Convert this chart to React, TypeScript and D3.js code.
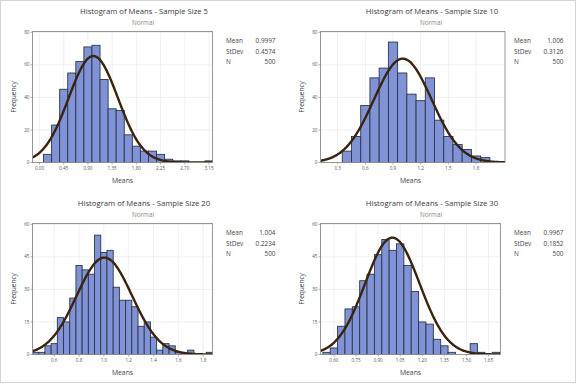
import React from "react";
import * as d3 from "d3";

// ---------- data ----------
const titles = [
  "Histogram of Means - Sample Size 5",
  "Histogram of Means - Sample Size 10",
  "Histogram of Means - Sample Size 20",
  "Histogram of Means - Sample Size 30",
];
const means = [0.9997, 1.006, 1.004, 0.9967];
const stdevs = [0.4574, 0.3126, 0.2234, 0.1852];
const meanLabels = ["0.9997", "1.006", "1.004", "0.9967"];
const stdevLabels = ["0.4574", "0.3126", "0.2234", "0.1852"];
const nValues = [500, 500, 500, 500];
const binWidths = [0.15, 0.1, 0.05, 0.05];

const mids5 = [0.15, 0.3, 0.45, 0.6, 0.75, 0.9, 1.05, 1.2, 1.35, 1.5, 1.65, 1.8, 1.95, 2.1, 2.25, 2.4, 2.55, 2.7, 2.85, 3.0, 3.15];
const counts5 = [5, 23, 45, 55, 62, 71, 72, 51, 33, 32, 17, 10, 7, 7, 5, 2, 1, 1, 0, 0, 1];

const mids10 = [0.4, 0.5, 0.6, 0.7, 0.8, 0.9, 1.0, 1.1, 1.2, 1.3, 1.4, 1.5, 1.6, 1.7, 1.8, 1.9];
const counts10 = [7, 16, 35, 52, 58, 74, 55, 42, 38, 52, 26, 16, 11, 8, 4, 3];

const mids20 = [0.45, 0.5, 0.55, 0.6, 0.65, 0.7, 0.75, 0.8, 0.85, 0.9, 0.95, 1.0, 1.05, 1.1, 1.15, 1.2, 1.25, 1.3, 1.35, 1.4, 1.45, 1.5, 1.55, 1.6, 1.65, 1.7, 1.75, 1.8, 1.85];
const counts20 = [1, 1, 4, 5, 17, 15, 26, 41, 39, 37, 55, 47, 48, 31, 25, 25, 22, 13, 15, 8, 2, 5, 4, 1, 0, 2, 0, 0, 1];

const mids30 = [0.55, 0.6, 0.65, 0.7, 0.75, 0.8, 0.85, 0.9, 0.95, 1.0, 1.05, 1.1, 1.15, 1.2, 1.25, 1.3, 1.35, 1.4, 1.45, 1.5, 1.55, 1.6, 1.65, 1.7];
const counts30 = [1, 3, 13, 21, 22, 34, 37, 46, 53, 48, 51, 41, 29, 15, 14, 7, 4, 1, 0, 0, 5, 1, 0, 1];

const xTicks5 = [0.0, 0.45, 0.9, 1.35, 1.8, 2.25, 2.7, 3.15];
const xTicks10 = [0.3, 0.6, 0.9, 1.2, 1.5, 1.8];
const xTicks20 = [0.6, 0.8, 1.0, 1.2, 1.4, 1.6, 1.8];
const xTicks30 = [0.6, 0.75, 0.9, 1.05, 1.2, 1.35, 1.5, 1.65];
const xTickDigits = [2, 1, 1, 2];

const yTicks5 = [0, 20, 40, 60, 80];
const yTicks10 = [0, 20, 40, 60, 80];
const yTicks20 = [0, 15, 30, 45, 60];
const yTicks30 = [0, 15, 30, 45, 60];

// ---------- layout ----------
const W = 576;
const H = 384;
const panelOrigins = [
  [0, 0],
  [288, 0],
  [0, 192],
  [288, 192],
];
const xDomains = [
  [-0.13, 3.215],
  [0.114, 2.114],
  [0.425, 1.875],
  [0.509, 1.731],
];
const plotRights = [212.5, 217, 212.5, 212.5];
const PL = 32.5, PT = 31.5, PB = 162.5;
const FONT = "'Open Sans', 'Noto Sans', sans-serif";
const BAR_FILL = "#8193d6";
const BAR_STROKE = "#27384a";
const CURVE = "#3a2410";

const mids = [mids5, mids10, mids20, mids30];
const counts = [counts5, counts10, counts20, counts30];
const xTicks = [xTicks5, xTicks10, xTicks20, xTicks30];
const yTicks = [yTicks5, yTicks10, yTicks20, yTicks30];

function Panel({ i }: { i: number }) {
  const [ox, oy] = panelOrigins[i];
  const PR = plotRights[i];
  const yt = yTicks[i];
  const x = d3.scaleLinear().domain(xDomains[i]).range([PL, PR]);
  const y = d3.scaleLinear().domain([0, yt[yt.length - 1]]).range([PB, PT + 0.8]);
  const bw = binWidths[i];
  const peak = (nValues[i] * bw) / (stdevs[i] * Math.sqrt(2 * Math.PI));
  const [d0, d1] = xDomains[i];
  const pts: [number, number][] = d3.range(0, 301).map((k) => {
    const v = d0 + ((d1 - d0) * k) / 300;
    const z = (v - means[i]) / stdevs[i];
    return [v, peak * Math.exp(-0.5 * z * z)];
  });
  const line = d3
    .line<[number, number]>()
    .x((d) => x(d[0]))
    .y((d) => y(d[1]))
    .curve(d3.curveMonotoneX);
  const fmt = d3.format(`.${xTickDigits[i]}f`);
  const clipId = `clip${i}`;
  return (
    <g transform={`translate(${ox},${oy})`}>
      <defs>
        <clipPath id={clipId}>
          <rect x={PL} y={PT} width={PR - PL} height={PB - PT} />
        </clipPath>
      </defs>
      <text x={144} y={14} textAnchor="middle" fontFamily={FONT} fontSize={7.7} fill="#3a3a3a">
        {titles[i]}
      </text>
      <text x={143} y={24.5} textAnchor="middle" fontFamily={FONT} fontSize={6.3} fill="#8a8a8a">
        Normal
      </text>
      {/* grid */}
      {xTicks[i].map((t) => (
        <line key={"gx" + t} x1={x(t)} x2={x(t)} y1={PT} y2={PB} stroke="#ececec" strokeWidth={0.8} />
      ))}
      {yt.map((t) => (
        <line key={"gy" + t} x1={PL} x2={PR} y1={y(t)} y2={y(t)} stroke="#ececec" strokeWidth={0.8} />
      ))}
      {/* bars */}
      <g clipPath={`url(#${clipId})`}>
        {mids[i].map((m, k) =>
          counts[i][k] > 0 ? (
            <rect
              key={"b" + k}
              x={x(m - bw / 2)}
              y={y(counts[i][k])}
              width={x(m + bw / 2) - x(m - bw / 2)}
              height={y(0) - y(counts[i][k])}
              fill={BAR_FILL}
              stroke={BAR_STROKE}
              strokeWidth={0.9}
            />
          ) : null
        )}
        <path d={line(pts) || ""} fill="none" stroke={CURVE} strokeWidth={2.4} />
      </g>
      {/* frame */}
      <rect x={PL} y={PT} width={PR - PL} height={PB - PT} fill="none" stroke="#8c8c8c" strokeWidth={0.9} />
      {/* x ticks */}
      {xTicks[i].map((t) => (
        <g key={"xt" + t}>
          <line x1={x(t)} x2={x(t)} y1={PB} y2={PB + 2} stroke="#8c8c8c" strokeWidth={0.7} />
          <text x={x(t)} y={PB + 7.5} textAnchor="middle" fontFamily={FONT} fontSize={4.6} fill="#555">
            {fmt(t)}
          </text>
        </g>
      ))}
      {yt.map((t) => (
        <g key={"yt" + t}>
          <line x1={PL - 2} x2={PL} y1={y(t)} y2={y(t)} stroke="#8c8c8c" strokeWidth={0.7} />
          <text x={PL - 3} y={y(t) + 1.6} textAnchor="end" fontFamily={FONT} fontSize={4.6} fill="#555">
            {t}
          </text>
        </g>
      ))}
      <text x={(PL + 212.5) / 2} y={183} textAnchor="middle" fontFamily={FONT} fontSize={6.8} fill="#444">
        Means
      </text>
      <text
        transform={`translate(${15.5},${(PT + PB) / 2}) rotate(-90)`}
        textAnchor="middle"
        fontFamily={FONT}
        fontSize={6.5}
        fill="#444"
      >
        Frequency
      </text>
      {/* stats */}
      {[
        ["Mean", meanLabels[i]],
        ["StDev", stdevLabels[i]],
        ["N", String(nValues[i])],
      ].map((r, k) => (
        <g key={"s" + k}>
          <text x={226} y={43 + k * 10.5} fontFamily={FONT} fontSize={6.4} fill="#444">
            {r[0]}
          </text>
          <text x={275.5} y={43 + k * 10.5} textAnchor="end" fontFamily={FONT} fontSize={6.4} fill="#444">
            {r[1]}
          </text>
        </g>
      ))}
    </g>
  );
}

export default function App() {
  return (
    <svg width={W} height={H} style={{ position: "absolute", left: 0, top: 0, background: "#fff" }}>
      <rect x={0} y={0} width={W} height={H} fill="#fff" />
      {[0, 1, 2, 3].map((i) => (
        <Panel key={i} i={i} />
      ))}
      <rect x={0.5} y={0.5} width={W - 1} height={H - 2} fill="none" stroke="#d4d4d4" strokeWidth={1} />
    </svg>
  );
}
